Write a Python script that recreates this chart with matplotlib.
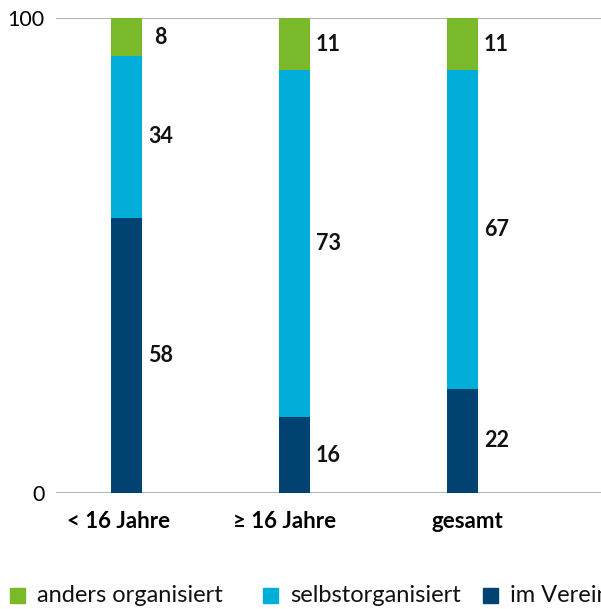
import matplotlib
matplotlib.use("Agg")
from matplotlib import pyplot as plt
from matplotlib.patches import Rectangle
import numpy as np

categories = ["< 16 Jahre", "≥ 16 Jahre", "gesamt"]
im_verein = [58, 16, 22]
selbstorganisiert = [34, 73, 67]
anders = [8, 11, 11]

series = [
    ("im Verein", im_verein, "#004373"),
    ("selbstorganisiert", selbstorganisiert, "#00afd9"),
    ("anders organisiert", anders, "#7ab929"),
]
colors = {name: c for name, _, c in series}

plt.rcParams['font.family'] = ['Lato', 'DejaVu Sans']

W, H = 601, 609
fig = plt.figure(figsize=(W / 100, H / 100), dpi=100)
ax = fig.add_axes([56 / W, 1 - 493 / H, 1 - 56 / W, (493 - 18) / H])

x = np.arange(len(categories))
width = 0.185
bottom = np.zeros(len(categories))
for name, vals, color in series:
    vals = np.array(vals, dtype=float)
    ax.bar(x, vals, width, bottom=bottom, color=color, zorder=3)
    for xi, b, v in zip(x, bottom, vals):
        ax.text(xi + width / 2 + 0.11, b + v / 2, str(int(v)),
                ha='center', va='center', fontsize=15.5, fontweight='bold',
                color='#111111')
    bottom += vals

ax.set_xlim(-0.42, 2.824)
ax.set_ylim(0, 100)
ax.set_yticks([0, 100])
ax.set_yticklabels(["0", "100"], fontsize=15.5)
# category labels sit slightly off the bar centres in the original
ax.set_xticks(x + np.array([-0.045, -0.06, 0.03]))
ax.set_xticklabels(categories, fontsize=16, fontweight='bold')
ax.tick_params(axis='both', length=0)
ax.tick_params(axis='y', pad=8)
ax.tick_params(axis='x', pad=13)
for y in [0, 100]:
    ax.axhline(y, color='#b3b3b3', lw=1.5, zorder=1)
for s in ax.spines.values():
    s.set_visible(False)

# legend, drawn by hand (it runs off the right edge in the original)
legend_items = [("anders organisiert", 10), ("selbstorganisiert", 263), ("im Verein", 483)]
for name, px in legend_items:
    fig.patches.append(Rectangle((px / W, 1 - 603 / H), 15 / W, 15 / H,
                                 transform=fig.transFigure, color=colors[name]))
    fig.text((px + 27) / W, 1 - 595 / H, name, ha='left', va='center',
             fontsize=17, color='#111111')

fig.savefig("out.png", dpi=100)
